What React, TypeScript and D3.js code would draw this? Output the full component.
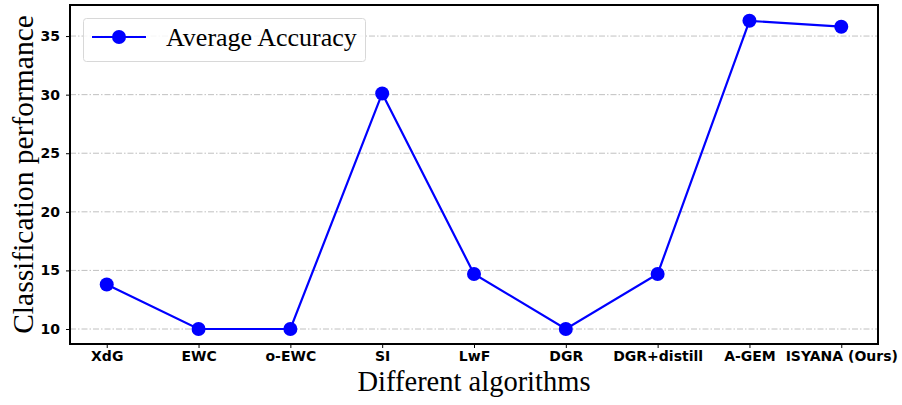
import { useEffect, useRef } from 'react';
import * as d3 from 'd3';

const algorithms = ['XdG', 'EWC', 'o-EWC', 'SI', 'LwF', 'DGR', 'DGR+distill', 'A-GEM', 'ISYANA (Ours)'];
const avgAccuracy = [13.8, 10.0, 10.0, 30.1, 14.7, 10.0, 14.7, 36.3, 35.8];
const yTicks = [10, 15, 20, 25, 30, 35];

export default function App() {
  const svgRef = useRef<SVGSVGElement>(null);

  useEffect(() => {
    if (!svgRef.current) return;
    const svg = d3.select(svgRef.current);
    svg.selectAll('*').remove();

    const left = 70, right = 878, top = 5, bottom = 344;

    // x: index scale with matplotlib-like margins
    const x = d3.scaleLinear().domain([-0.4, algorithms.length - 1 + 0.4]).range([left, right]);
    const y = d3.scaleLinear().domain([8.72, 37.65]).range([bottom, top]);

    // grid
    svg.append('g')
      .selectAll('line')
      .data(yTicks)
      .enter().append('line')
      .attr('x1', left).attr('x2', right)
      .attr('y1', d => y(d)).attr('y2', d => y(d))
      .attr('stroke', '#b0b0b0')
      .attr('stroke-width', 0.8)
      .attr('stroke-dasharray', '6,2,1.5,2');

    // y axis
    const yAxis = svg.append('g')
      .attr('transform', `translate(${left},0)`)
      .call(d3.axisLeft(y).tickValues(yTicks).tickSize(4).tickPadding(6).tickFormat(d3.format('d')));
    yAxis.select('.domain').remove();
    yAxis.selectAll('line').attr('stroke', '#000').attr('stroke-width', 1);
    yAxis.selectAll('text')
      .style('font-family', 'DejaVu Sans')
      .style('font-weight', 'bold')
      .style('font-size', '14px')
      .attr('fill', '#000');

    // x axis
    const xAxis = svg.append('g')
      .attr('transform', `translate(0,${bottom})`)
      .call(d3.axisBottom(x).tickValues(d3.range(algorithms.length)).tickSize(4).tickPadding(3)
        .tickFormat((d) => algorithms[d as number]));
    xAxis.select('.domain').remove();
    xAxis.selectAll('line').attr('stroke', '#000').attr('stroke-width', 1);
    xAxis.selectAll('text')
      .style('font-family', 'DejaVu Sans')
      .style('font-weight', 'bold')
      .style('font-size', '14px')
      .attr('fill', '#000');

    // line
    const line = d3.line<number>()
      .x((_, i) => x(i))
      .y(d => y(d));

    svg.append('path')
      .datum(avgAccuracy)
      .attr('fill', 'none')
      .attr('stroke', '#0000ff')
      .attr('stroke-width', 2.2)
      .attr('d', line);

    svg.append('g')
      .selectAll('circle')
      .data(avgAccuracy)
      .enter().append('circle')
      .attr('cx', (_, i) => x(i))
      .attr('cy', d => y(d))
      .attr('r', 7)
      .attr('fill', '#0000ff');

    // frame
    svg.append('rect')
      .attr('x', left).attr('y', top)
      .attr('width', right - left).attr('height', bottom - top)
      .attr('fill', 'none')
      .attr('stroke', '#000')
      .attr('stroke-width', 2);

    // legend
    const legend = svg.append('g');
    legend.append('rect')
      .attr('x', 83.5).attr('y', 18.5)
      .attr('width', 282).attr('height', 43)
      .attr('rx', 3)
      .attr('fill', 'rgba(255,255,255,0.85)')
      .attr('stroke', '#d8d8d8')
      .attr('stroke-width', 1);
    legend.append('line')
      .attr('x1', 92).attr('x2', 146)
      .attr('y1', 37).attr('y2', 37)
      .attr('stroke', '#0000ff').attr('stroke-width', 2.2);
    legend.append('circle')
      .attr('cx', 119).attr('cy', 37).attr('r', 7).attr('fill', '#0000ff');
    legend.append('text')
      .attr('x', 166).attr('y', 46)
      .style('font-family', 'Liberation Serif')
      .style('font-size', '26px')
      .text('Average Accuracy');

    // axis labels
    svg.append('text')
      .attr('transform', `translate(33,${(top + bottom) / 2}) rotate(-90)`)
      .attr('text-anchor', 'middle')
      .style('font-family', 'Liberation Serif')
      .style('font-size', '29.5px')
      .text('Classification performance');

    svg.append('text')
      .attr('x', (left + right) / 2).attr('y', 391)
      .attr('text-anchor', 'middle')
      .style('font-family', 'Liberation Serif')
      .style('font-size', '28.5px')
      .text('Different algorithms');
  }, []);

  return (
    <svg ref={svgRef} width={902} height={405}
      style={{ position: 'absolute', left: 0, top: 0, background: '#fff' }} />
  );
}
